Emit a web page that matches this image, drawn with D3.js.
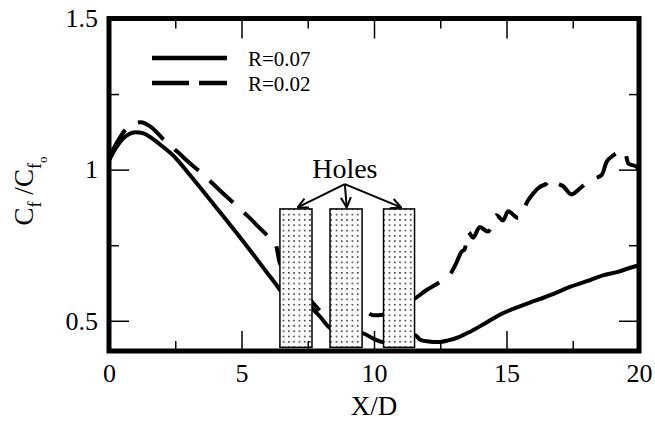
<!DOCTYPE html>
<html>
<head>
<meta charset="utf-8">
<script src="https://cdn.jsdelivr.net/npm/d3@7"></script>
<style>
  html, body { margin: 0; padding: 0; background: #fff; }
  svg { display: block; }
</style>
</head>
<body>
<svg id="chart" width="655" height="422"></svg>
<script>
// ---------------- data ----------------
const seriesNames = ["R=0.07", "R=0.02"];

const xSolid = [0, 0.25, 0.5, 0.76, 1.0, 1.3, 1.6, 2.0, 2.5, 3.0, 3.5, 4.0, 4.5, 5.0, 5.5, 6.0, 6.35, 6.47, 7.0, 7.68, 8.0, 8.36, 9.0, 9.57, 10.0, 10.33, 11.0, 11.55, 11.75, 12.0, 12.25, 12.48, 12.8, 13.2, 13.61, 14.2, 14.86, 15.5, 16.14, 16.8, 17.39, 18.0, 18.64, 19.2, 19.77, 20];
const ySolid = [1.03, 1.07, 1.10, 1.118, 1.124, 1.12, 1.105, 1.078, 1.04, 0.988, 0.934, 0.88, 0.825, 0.77, 0.713, 0.655, 0.615, 0.60, 0.575, 0.54, 0.51, 0.475, 0.465, 0.459, 0.44, 0.43, 0.44, 0.452, 0.437, 0.432, 0.43, 0.43, 0.435, 0.446, 0.463, 0.492, 0.525, 0.548, 0.568, 0.59, 0.612, 0.63, 0.65, 0.662, 0.678, 0.683];

const xDashed = [0, 0.3, 0.65, 0.9, 1.2, 1.6, 2.08, 2.58, 3.0, 3.47, 3.91, 4.35, 4.79, 5.23, 5.65, 6.05, 6.3, 6.45, 7.0, 7.68, 8.0, 8.36, 9.0, 9.57, 9.8, 10.0, 10.33, 11.0, 11.55, 11.97, 12.48, 12.6, 12.85, 13.1, 13.3, 13.42, 13.55, 13.74, 13.99, 14.3, 14.62, 14.87, 15.06, 15.44, 15.82, 16.26, 16.51, 16.64, 16.9, 17.14, 17.45, 17.8, 18.08, 18.3, 18.59, 18.78, 19.0, 19.28, 19.45, 19.6, 19.9, 20];
const yDashed = [1.04, 1.09, 1.135, 1.15, 1.157, 1.14, 1.098, 1.059, 1.025, 0.99, 0.954, 0.918, 0.882, 0.847, 0.81, 0.775, 0.75, 0.69, 0.64, 0.56, 0.53, 0.50, 0.52, 0.55, 0.525, 0.518, 0.52, 0.55, 0.574, 0.601, 0.628, 0.635, 0.651, 0.69, 0.728, 0.736, 0.794, 0.775, 0.81, 0.795, 0.849, 0.832, 0.862, 0.84, 0.899, 0.943, 0.954, 0.968, 0.955, 0.945, 0.918, 0.94, 0.96, 0.97, 0.982, 1.026, 1.045, 1.059, 1.062, 1.02, 1.01, 1.0];

const holeStart = [6.45, 8.34, 10.36];
const holeEnd   = [7.66, 9.55, 11.53];
const holeTop = 0.87, holeBottom = 0.412;
const holesLabel = "Holes";
const holesLabelPos = [8.9, 0.972];
const holesArrowFrom = [8.9, 0.952];
const holesArrowTo = [7.12, 8.97, 11.02];

const xMajorTicks = [0, 5, 10, 15, 20];
const xMinorTicks = [2.5, 7.5, 12.5, 17.5];
const yMajorTicks = [0.5, 1, 1.5];
const yMinorTicks = [0.75, 1.25];
const yTickLabels = ["0.5", "1", "1.5"];
const xTickLabels = ["0", "5", "10", "15", "20"];
const xTitle = "X/D";

// ---------------- layout ----------------
const FONT = "'Liberation Serif', 'Times New Roman', Times, 'DejaVu Serif', serif";
const svg = d3.select("#chart");
const L = 109, R = 639, T = 18.5, B = 351;
const x = d3.scaleLinear().domain([0, 20]).range([L, R]);
const y = d3.scaleLinear().domain([0.4, 1.5]).range([B, T]);

const defs = svg.append("defs");
const pat = defs.append("pattern").attr("id", "dots")
  .attr("patternUnits", "userSpaceOnUse").attr("width", 5.3).attr("height", 5.3);
pat.append("rect").attr("width", 5.3).attr("height", 5.3).attr("fill", "#fff");
pat.append("circle").attr("cx", 2.6).attr("cy", 2.6).attr("r", 0.8).attr("fill", "#000");

const marker = defs.append("marker").attr("id", "arrow")
  .attr("viewBox", "0 0 12 12").attr("refX", 11).attr("refY", 6)
  .attr("markerWidth", 12).attr("markerHeight", 12).attr("markerUnits", "userSpaceOnUse")
  .attr("orient", "auto");
marker.append("path").attr("d", "M1,1 L11,6 L1,11").attr("fill", "none")
  .attr("stroke", "#000").attr("stroke-width", 2);

// curves
const line = d3.line().x(d => x(d[0])).y(d => y(d[1])).curve(d3.curveMonotoneX);
const solidData = xSolid.map((v, i) => [v, ySolid[i]]);
const dashedData = xDashed.map((v, i) => [v, yDashed[i]]);

svg.append("path").attr("d", line(solidData)).attr("fill", "none")
  .attr("stroke", "#000").attr("stroke-width", 4).attr("stroke-linejoin", "round");
svg.append("path").attr("d", line(dashedData)).attr("fill", "none")
  .attr("stroke", "#000").attr("stroke-width", 4).attr("stroke-dasharray", "32,15");

// holes
svg.append("g").selectAll("rect").data(holeStart).join("rect")
  .attr("x", (d) => x(d))
  .attr("width", (d, i) => x(holeEnd[i]) - x(d))
  .attr("y", y(holeTop))
  .attr("height", y(holeBottom) - y(holeTop))
  .attr("fill", "url(#dots)").attr("stroke", "#000").attr("stroke-width", 1.5);

svg.append("text").attr("x", x(holesLabelPos[0])).attr("y", y(holesLabelPos[1]))
  .attr("text-anchor", "middle").style("font-family", FONT).style("font-size", "28px").text(holesLabel);

svg.append("g").selectAll("line").data(holesArrowTo).join("line")
  .attr("x1", x(holesArrowFrom[0])).attr("y1", y(holesArrowFrom[1]))
  .attr("x2", d => x(d)).attr("y2", y(holeTop) - 1.5)
  .attr("stroke", "#000").attr("stroke-width", 2).attr("marker-end", "url(#arrow)");

// axes (inward ticks)
function styleAxis(g) {
  g.attr("font-family", null).attr("font-size", null);
  g.select(".domain").remove();
  g.selectAll(".tick line").attr("stroke", "#000").attr("stroke-width", 1.5);
  g.selectAll("text").style("font-family", FONT).style("font-size", "26px").attr("fill", "#000");
}
const xb = svg.append("g").attr("transform", `translate(0,${B})`)
  .call(d3.axisBottom(x).tickValues(xMajorTicks).tickSize(-20).tickPadding(13)
    .tickFormat((d, i) => xTickLabels[i]));
styleAxis(xb);
const xbm = svg.append("g").attr("transform", `translate(0,${B})`)
  .call(d3.axisBottom(x).tickValues(xMinorTicks).tickSize(-10).tickFormat(""));
styleAxis(xbm);
const xt = svg.append("g").attr("transform", `translate(0,${T})`)
  .call(d3.axisTop(x).tickValues(xMajorTicks).tickSize(-20).tickFormat(""));
styleAxis(xt);
const xtm = svg.append("g").attr("transform", `translate(0,${T})`)
  .call(d3.axisTop(x).tickValues(xMinorTicks).tickSize(-10).tickFormat(""));
styleAxis(xtm);

const yl = svg.append("g").attr("transform", `translate(${L},0)`)
  .call(d3.axisLeft(y).tickValues(yMajorTicks).tickSize(-20).tickPadding(11)
    .tickFormat((d, i) => yTickLabels[i]));
styleAxis(yl);
const ylm = svg.append("g").attr("transform", `translate(${L},0)`)
  .call(d3.axisLeft(y).tickValues(yMinorTicks).tickSize(-10).tickFormat(""));
styleAxis(ylm);
const yr = svg.append("g").attr("transform", `translate(${R},0)`)
  .call(d3.axisRight(y).tickValues(yMajorTicks).tickSize(-20).tickFormat(""));
styleAxis(yr);
const yrm = svg.append("g").attr("transform", `translate(${R},0)`)
  .call(d3.axisRight(y).tickValues(yMinorTicks).tickSize(-10).tickFormat(""));
styleAxis(yrm);

// frame
svg.append("rect").attr("x", L).attr("y", T).attr("width", R - L).attr("height", B - T)
  .attr("fill", "none").attr("stroke", "#000").attr("stroke-width", 5);

// axis titles
svg.append("text").attr("x", (L + R) / 2).attr("y", 415).attr("text-anchor", "middle")
  .style("font-family", FONT).style("font-size", "27px").text(xTitle);

const yt = svg.append("text").attr("transform", "translate(33,191) rotate(-90)")
  .attr("text-anchor", "middle").style("font-family", FONT).style("font-size", "27px");
yt.append("tspan").text("C");
yt.append("tspan").style("font-size", "18px").attr("dy", 8).text("f");
yt.append("tspan").attr("dy", -8).text(" /C");
yt.append("tspan").style("font-size", "18px").attr("dy", 8).text("f");
yt.append("tspan").style("font-size", "13px").attr("dy", 6).text("o");

// legend
const legendY = [58, 83];
const legendDash = [null, "37,10"];
const lg = svg.append("g");
seriesNames.forEach((name, i) => {
  lg.append("line").attr("x1", 152).attr("x2", 227).attr("y1", legendY[i]).attr("y2", legendY[i])
    .attr("stroke", "#000").attr("stroke-width", 4.5)
    .attr("stroke-dasharray", legendDash[i]);
  lg.append("text").attr("x", 248).attr("y", legendY[i] + 7.5)
    .style("font-family", FONT).style("font-size", "21px").text(name);
});
</script>
</body>
</html>
